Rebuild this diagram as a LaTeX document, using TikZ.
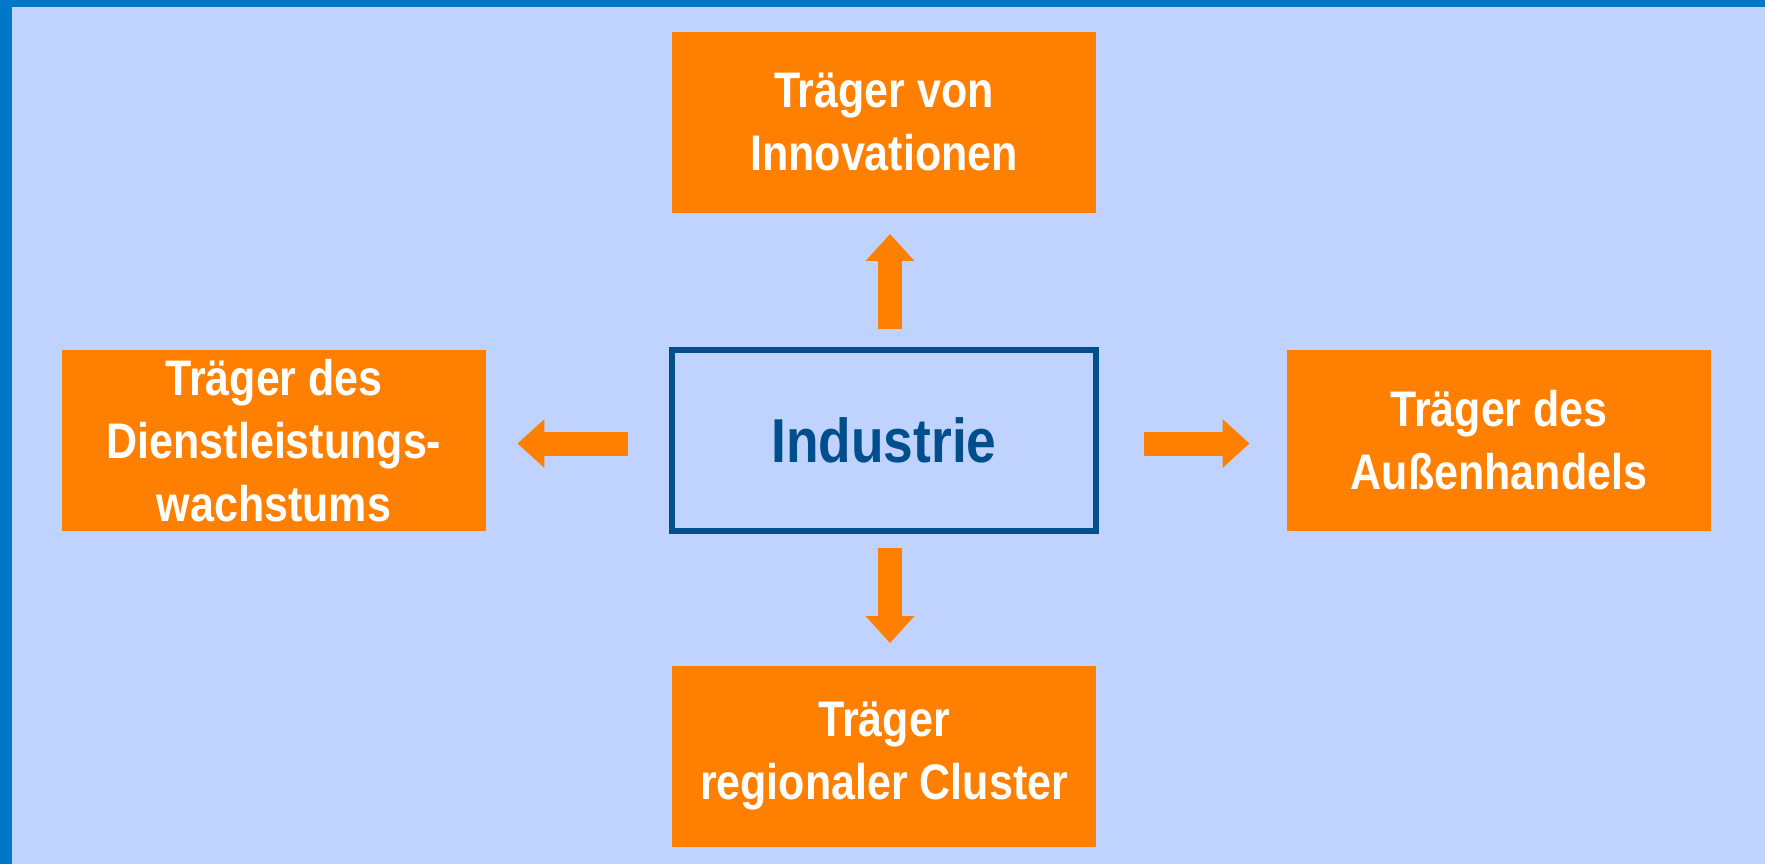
\documentclass[tikz,border=0pt]{standalone}
\usepackage{fontspec}
\setmainfont[FakeStretch=0.86]{Liberation Sans}
\usepackage{tikz}
\usetikzlibrary{arrows.meta, positioning}
\definecolor{frameblue}{RGB}{0,119,200}
\definecolor{paleblue}{RGB}{192,211,255}
\definecolor{deepblue}{RGB}{0,79,140}
\definecolor{traegerorange}{RGB}{255,127,0}

\begin{document}
\begin{tikzpicture}[x=0.5pt, y=-0.5pt,
  traeger/.style={fill=traegerorange, text=white, font=\bfseries\fontsize{25pt}{31.5pt}\selectfont,
                  minimum width=212pt, minimum height=90.5pt, inner sep=0pt, align=center},
  kern/.style={draw=deepblue, line width=3.25pt, text=deepblue, outer sep=0pt,
               font=\bfseries\fontsize{31pt}{36pt}\selectfont,
               minimum width=212pt, minimum height=90.5pt, inner sep=0pt},
  pfeil/.style={draw=traegerorange, line width=12pt,
                -{Triangle[width=23.5pt, length=13.5pt]}}]
\useasboundingbox (0,0) rectangle (1765,864);
\fill[frameblue] (0,0) rectangle (1765,864);
\fill[paleblue] (12,7) rectangle (1765,864);
%
\node[kern] (ind) at (884,440.5) {Industrie};
\node[traeger] (inno) at (884,122) {Träger von\\Innovationen};
\node[traeger] (dienst) at (274,440.5) {Träger des\\Dienstleistungs-\\wachstums};
\node[traeger] (aussen) at (1499,440.5) {Träger des\\Außenhandels};
\node[traeger] (cluster) at (884,756) {Träger\\regionaler Cluster};
%
\draw[pfeil, shorten <=10.5pt, shorten >=10.5pt] ([xshift=3pt]ind.north) -- ([xshift=3pt]inno.south);
\draw[pfeil, shorten <=22pt, shorten >=15.5pt] ([yshift=-1.5pt]ind.west) -- ([yshift=-1.5pt]dienst.east);
\draw[pfeil, shorten <=24pt, shorten >=18.5pt] ([yshift=-1.5pt]ind.east) -- ([yshift=-1.5pt]aussen.west);
\draw[pfeil, shorten <=8.5pt, shorten >=11pt] ([xshift=3pt]ind.south) -- ([xshift=3pt]cluster.north);
%
\end{tikzpicture}
\end{document}
